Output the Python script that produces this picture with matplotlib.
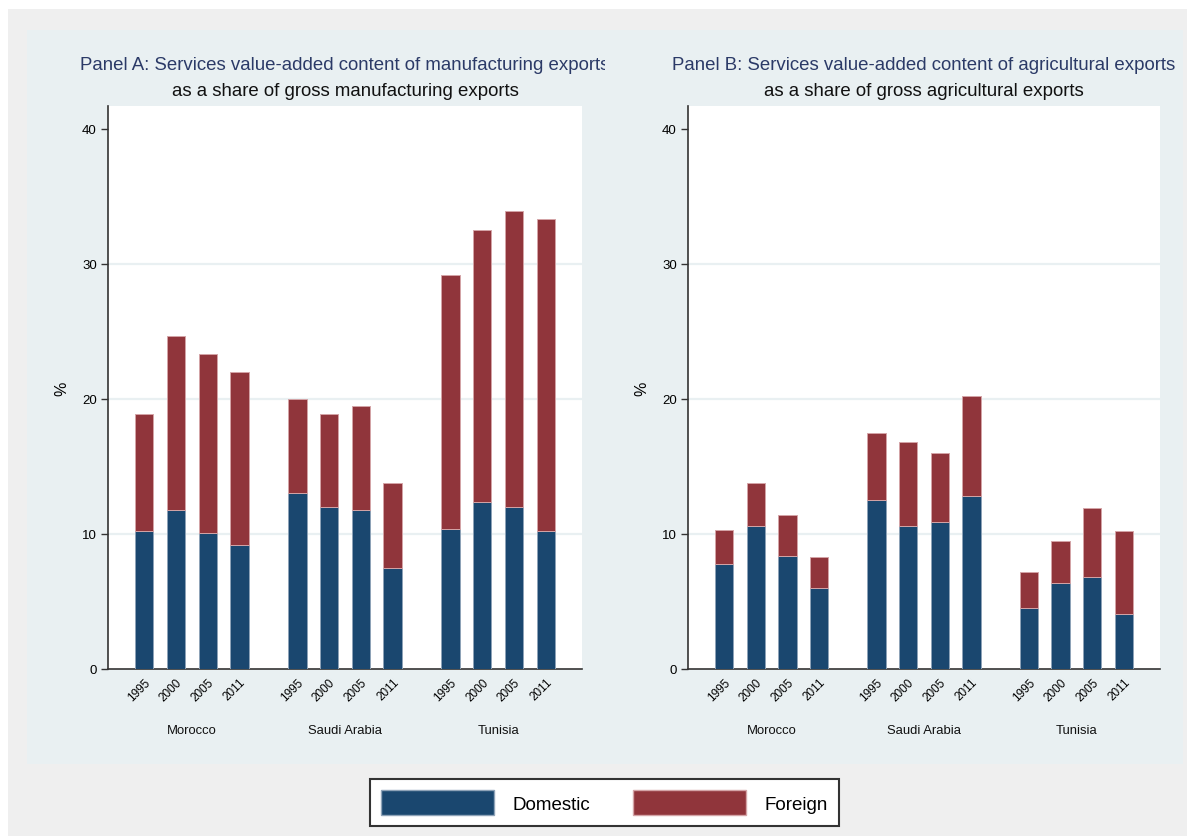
import numpy as np
import matplotlib
matplotlib.use("Agg")
import matplotlib.pyplot as plt
from matplotlib.patches import Rectangle, Patch
from matplotlib.transforms import Bbox, TransformedBbox

# data (%)
countries = ["Morocco", "Saudi Arabia", "Tunisia"]
years = ["1995", "2000", "2005", "2011"]

manuf_domestic = [[10.2, 11.8, 10.1, 9.2],
                  [13.0, 12.0, 11.8, 7.5],
                  [10.4, 12.4, 12.0, 10.2]]
manuf_total = [[18.9, 24.7, 23.3, 22.0],
               [20.0, 18.9, 19.5, 13.8],
               [29.2, 32.5, 33.9, 33.3]]

agri_domestic = [[7.8, 10.6, 8.4, 6.0],
                 [12.5, 10.6, 10.9, 12.8],
                 [4.5, 6.4, 6.8, 4.1]]
agri_total = [[10.3, 13.8, 11.4, 8.3],
              [17.5, 16.8, 16.0, 20.2],
              [7.2, 9.5, 11.9, 10.2]]

titles = [("Panel A: Services value-added content of manufacturing exports",
           "as a share of gross manufacturing exports"),
          ("Panel B: Services value-added content of agricultural exports",
           "as a share of gross agricultural exports")]

dom_color = "#1a476f"
for_color = "#90353b"
W, H = 1187, 837

plt.rcParams["font.family"] = ["Liberation Sans", "DejaVu Sans"]
fig = plt.figure(figsize=(W / 100, H / 100), dpi=100, facecolor="white")

# background regions (Stata style)
fig.patches.append(Rectangle((8 / W, 0), 1, (H - 10) / H, transform=fig.transFigure,
                             facecolor="#efefef", edgecolor="none", zorder=-2))
fig.patches.append(Rectangle((27 / W, 72 / H), (1183 - 27) / W, (765 - 31) / H,
                             transform=fig.transFigure, facecolor="#e9f0f2",
                             edgecolor="none", zorder=-1))

group_step = 4.82
panels = [(108, 582, manuf_domestic, manuf_total), (688, 1160, agri_domestic, agri_total)]

for k, (x0, x1, dom, tot) in enumerate(panels):
    ax = fig.add_axes([x0 / W, (H - 670) / H, (x1 - x0) / W, (670 - 107) / H])
    ax.set_facecolor("white")
    dom = np.array(dom)
    tot = np.array(tot)
    xs, labels = [], []
    for j in range(len(countries)):
        x = j * group_step + np.arange(len(years))
        ax.bar(x, dom[j], width=0.58, color=dom_color, edgecolor="#8ea3b8", linewidth=0.7, zorder=3)
        ax.bar(x, tot[j] - dom[j], bottom=dom[j], width=0.58, color=for_color,
               edgecolor="#d4a4a7", linewidth=0.7, zorder=3)
        xs.extend(x)
        labels.extend(years)
        ax.text(j * group_step + 1.5, -0.108, countries[j], transform=ax.get_xaxis_transform(),
                ha="center", va="center", fontsize=9.4, color="#111111")

    ax.set_xlim(-1.14, 2 * group_step + 3 + 1.14)
    ax.set_ylim(0, 41.7)
    ax.set_xticks(xs)
    ax.set_xticklabels(labels, rotation=45, ha="right", va="top", rotation_mode="anchor", fontsize=8.5)
    ax.tick_params(axis="x", length=0, pad=5)
    ax.set_yticks([0, 10, 20, 30, 40])
    ax.tick_params(axis="y", length=5, width=1, labelsize=9.5, color="#333333", pad=3)
    for g in [10, 20, 30]:
        ax.axhline(g, color="#e9f0f2", linewidth=1.6, zorder=1)
    for s in ["top", "right"]:
        ax.spines[s].set_visible(False)
    for s in ["left", "bottom"]:
        ax.spines[s].set_color("#333333")
        ax.spines[s].set_linewidth(1.2)
    ax.set_ylabel("%", fontsize=11.5, labelpad=9)

    cx = (x0 + x1) / 2 / W
    t1 = fig.text(cx, 1 - 65 / H, titles[k][0], ha="center", va="center", fontsize=13.4, color="#2b3a67")
    fig.text(cx, 1 - 92 / H, titles[k][1], ha="center", va="center", fontsize=13.4, color="#111111")
    if k == 0:
        # panel A title runs past its graph region in the original
        t1.set_clip_box(TransformedBbox(Bbox([[0, 0], [605 / W, 1]]), fig.transFigure))
        t1.set_clip_on(True)

handles = [Patch(facecolor=dom_color, edgecolor="#8ea3b8", label="Domestic"),
           Patch(facecolor=for_color, edgecolor="#d4a4a7", label="Foreign")]
leg = fig.legend(handles=handles, loc="center", bbox_to_anchor=(604.5 / W, 33.5 / H), ncol=2,
                 fontsize=13.5, handlelength=6.0, handleheight=1.65, handletextpad=1.0,
                 columnspacing=2.3, borderpad=0.6, fancybox=False, framealpha=1,
                 edgecolor="#333333", facecolor="white")
leg.get_frame().set_linewidth(1.5)

fig.savefig("out.png", dpi=100)
